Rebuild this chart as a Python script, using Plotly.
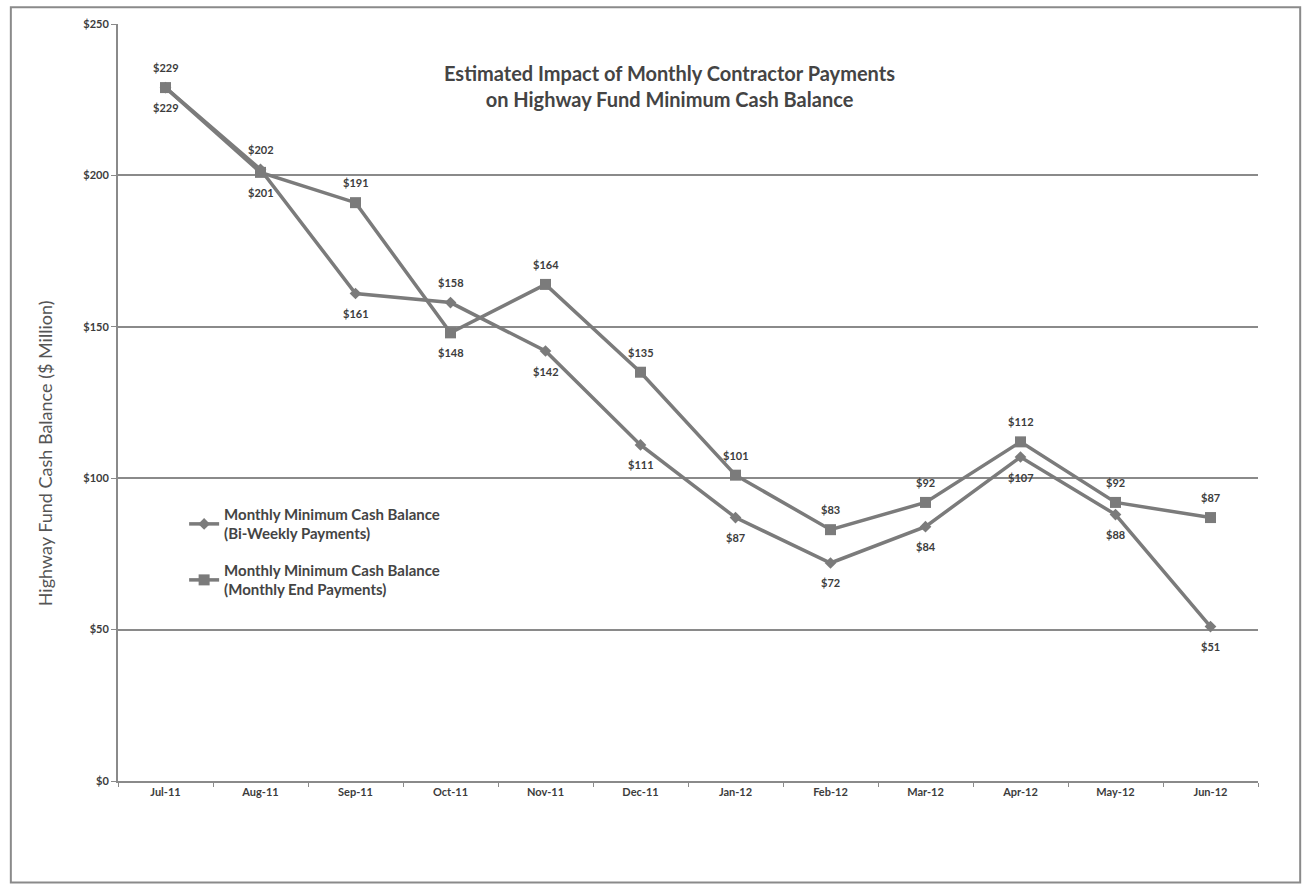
import plotly.graph_objects as go

# Highway Fund minimum cash balance by month ($ million)
months = ["Jul-11", "Aug-11", "Sep-11", "Oct-11", "Nov-11", "Dec-11",
          "Jan-12", "Feb-12", "Mar-12", "Apr-12", "May-12", "Jun-12"]
biweekly = [229, 202, 161, 158, 142, 111, 87, 72, 84, 107, 88, 51]
month_end = [229, 201, 191, 148, 164, 135, 101, 83, 92, 112, 92, 87]
y_ticks = [0, 50, 100, 150, 200, 250]

LINE = "#7b7b7b"
TEXT = "#3c3c3c"
FONT = "Lato"

fig = go.Figure()
fig.add_trace(go.Scatter(
    x=months, y=biweekly, mode="lines+markers", legendgroup="biweekly",
    name="Monthly Minimum Cash Balance<br>(Bi-Weekly Payments)",
    line=dict(color=LINE, width=3.5),
    marker=dict(symbol="diamond", size=9, color=LINE),
))
fig.add_trace(go.Scatter(
    x=months, y=month_end, mode="lines+markers", legendgroup="month_end",
    name="Monthly Minimum Cash Balance<br>(Monthly End Payments)",
    line=dict(color=LINE, width=3.5),
    marker=dict(symbol="square", size=11, color=LINE),
))

# value labels: the higher of the two series is labelled above, the lower below
annotations = []
for m, b, e in zip(months, biweekly, month_end):
    annotations.append(dict(x=m, y=b, xref="x", yref="y", text=f"${b}",
                            showarrow=False, yshift=20 if b > e else -20))
    annotations.append(dict(x=m, y=e, xref="x", yref="y", text=f"${e}",
                            showarrow=False, yshift=20 if e >= b else -20))
for a in annotations:
    a["font"] = dict(family=FONT, size=11, color=TEXT, weight="bold")

annotations.append(dict(
    text="Estimated Impact of Monthly Contractor Payments<br>on Highway Fund Minimum Cash Balance",
    xref="paper", yref="paper", x=0.484, y=0.918, xanchor="center", yanchor="middle",
    showarrow=False, font=dict(family=FONT, size=20, color="#444444", weight="bold"),
))
annotations.append(dict(
    text="Highway Fund Cash Balance ($ Million)",
    xref="paper", yref="paper", x=-0.064, y=0.433, xanchor="center", yanchor="middle",
    textangle=-90, showarrow=False,
    font=dict(family=FONT, size=18, color="#555555"),
))

fig.update_layout(
    width=1309, height=888,
    margin=dict(l=118, r=51, t=24, b=107),
    paper_bgcolor="white", plot_bgcolor="white",
    font=dict(family=FONT, color=TEXT),
    showlegend=True,
    legend=dict(x=0.058, y=0.374, xanchor="left", yanchor="top",
                bgcolor="rgba(0,0,0,0)",
                font=dict(family=FONT, size=15, color="#444444", weight="bold"),
                itemwidth=30, tracegroupgap=14),
    annotations=annotations,
    shapes=[dict(type="rect", xref="paper", yref="paper",
                 x0=-0.094, x1=1.037, y0=-0.134, y1=1.022,
                 line=dict(color="#8a8a8a", width=2))],
)
fig.update_xaxes(
    type="category", range=[-0.5, 11.5],
    showline=True, linecolor="#8a8a8a", linewidth=2,
    ticks="outside", tickson="boundaries", ticklen=4, tickcolor="#8a8a8a",
    tickfont=dict(family=FONT, size=11, color=TEXT, weight="bold"),
    showgrid=False,
)
fig.update_yaxes(
    range=[0, 250], tickvals=y_ticks, ticktext=[f"${v}" for v in y_ticks],
    showline=True, linecolor="#8a8a8a", linewidth=2,
    ticks="outside", ticklen=5, tickcolor="#8a8a8a",
    tickfont=dict(family=FONT, size=11, color=TEXT, weight="bold"),
    showgrid=True, gridcolor="#8a8a8a", gridwidth=1.5,
    zeroline=False,
)

fig.write_html("out.html")
